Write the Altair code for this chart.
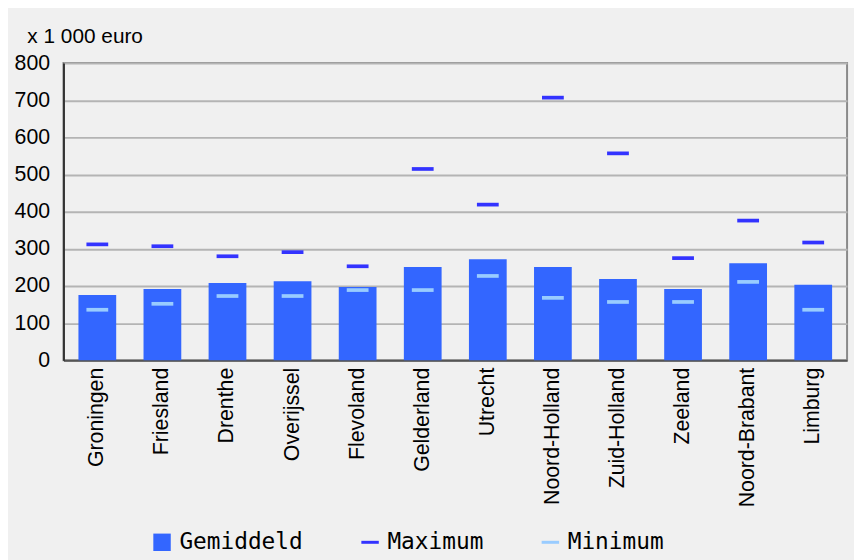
import altair as alt
import pandas as pd

provinces = ["Groningen", "Friesland", "Drenthe", "Overijssel", "Flevoland", "Gelderland",
             "Utrecht", "Noord-Holland", "Zuid-Holland", "Zeeland", "Noord-Brabant", "Limburg"]
gemiddeld = [176, 192, 208, 213, 197, 251, 272, 251, 219, 192, 261, 203]
maximum = [312, 307, 280, 291, 253, 515, 419, 707, 557, 275, 376, 317]
minimum = [136, 152, 173, 173, 189, 189, 227, 168, 157, 157, 211, 136]
series_names = ["Gemiddeld", "Maximum", "Minimum"]
series_colors = ["#3366ff", "#3333ff", "#99ccff"]
y_ticks = [0, 100, 200, 300, 400, 500, 600, 700, 800]

bars_df = pd.DataFrame({"provincie": provinces, "waarde": gemiddeld, "reeks": "Gemiddeld"})
ticks_df = pd.concat([
    pd.DataFrame({"provincie": provinces, "waarde": maximum, "reeks": "Maximum"}),
    pd.DataFrame({"provincie": provinces, "waarde": minimum, "reeks": "Minimum"}),
])

dash = "M-1,-0.17H1V0.17H-1Z"

x_enc = alt.X("provincie:N", sort=provinces,
              scale=alt.Scale(paddingInner=0.42, paddingOuter=0.23),
              axis=alt.Axis(title=None, labelAngle=-90, labelFontSize=21.5, labelFont="Liberation Sans",
                            labelColor="#000", labelPadding=7, ticks=False, domainColor="#555",
                            domainWidth=2, grid=False, labelOverlap=False))
y_enc = alt.Y("waarde:Q", scale=alt.Scale(domain=[0, 800], nice=False),
              axis=alt.Axis(values=y_ticks, title="x 1 000 euro", titleAngle=0, titleAlign="left",
                            titleBaseline="alphabetic", titleX=-37, titleY=-21,
                            titleFontWeight="normal", titleFontSize=21, titleFont="Liberation Sans",
                            titleColor="#000", labelFontSize=21.5, labelFont="Liberation Sans",
                            labelColor="#000", labelPadding=14, ticks=False, grid=True,
                            gridColor="#b4b4b4", gridWidth=2, domainColor="#333", domainWidth=2,
                            labelOverlap=False))

legend = alt.Legend(title=None, orient="none", legendX=88, legendY=472,
                    direction="horizontal", labelFont="DejaVu Sans Mono",
                    labelFontSize=23, labelColor="#000", symbolSize=310,
                    symbolStrokeWidth=0, labelOffset=6, columnPadding=56,
                    symbolOpacity=1)

bars = alt.Chart(bars_df).mark_bar(color="#3366ff").encode(x=x_enc, y=y_enc)

points = alt.Chart(ticks_df).mark_point(filled=True, size=484, opacity=1, strokeWidth=0).encode(
    x=x_enc,
    y=y_enc,
    color=alt.Color("reeks:N", scale=alt.Scale(domain=series_names, range=series_colors), legend=legend),
    shape=alt.Shape("reeks:N", scale=alt.Scale(domain=series_names, range=["square", dash, dash]),
                    legend=legend),
)

chart = alt.layer(bars, points).properties(
    width=791, height=300,
    autosize=alt.AutoSizeParams(type="none"),
    padding={"left": 56, "top": 53, "right": 7, "bottom": 199},
    background="#f0f0f0",
).configure_view(stroke="#8a8a8a", strokeWidth=2, fill="#f0f0f0")

chart.save("out.html", embed_options={"renderer": "svg", "actions": False})
